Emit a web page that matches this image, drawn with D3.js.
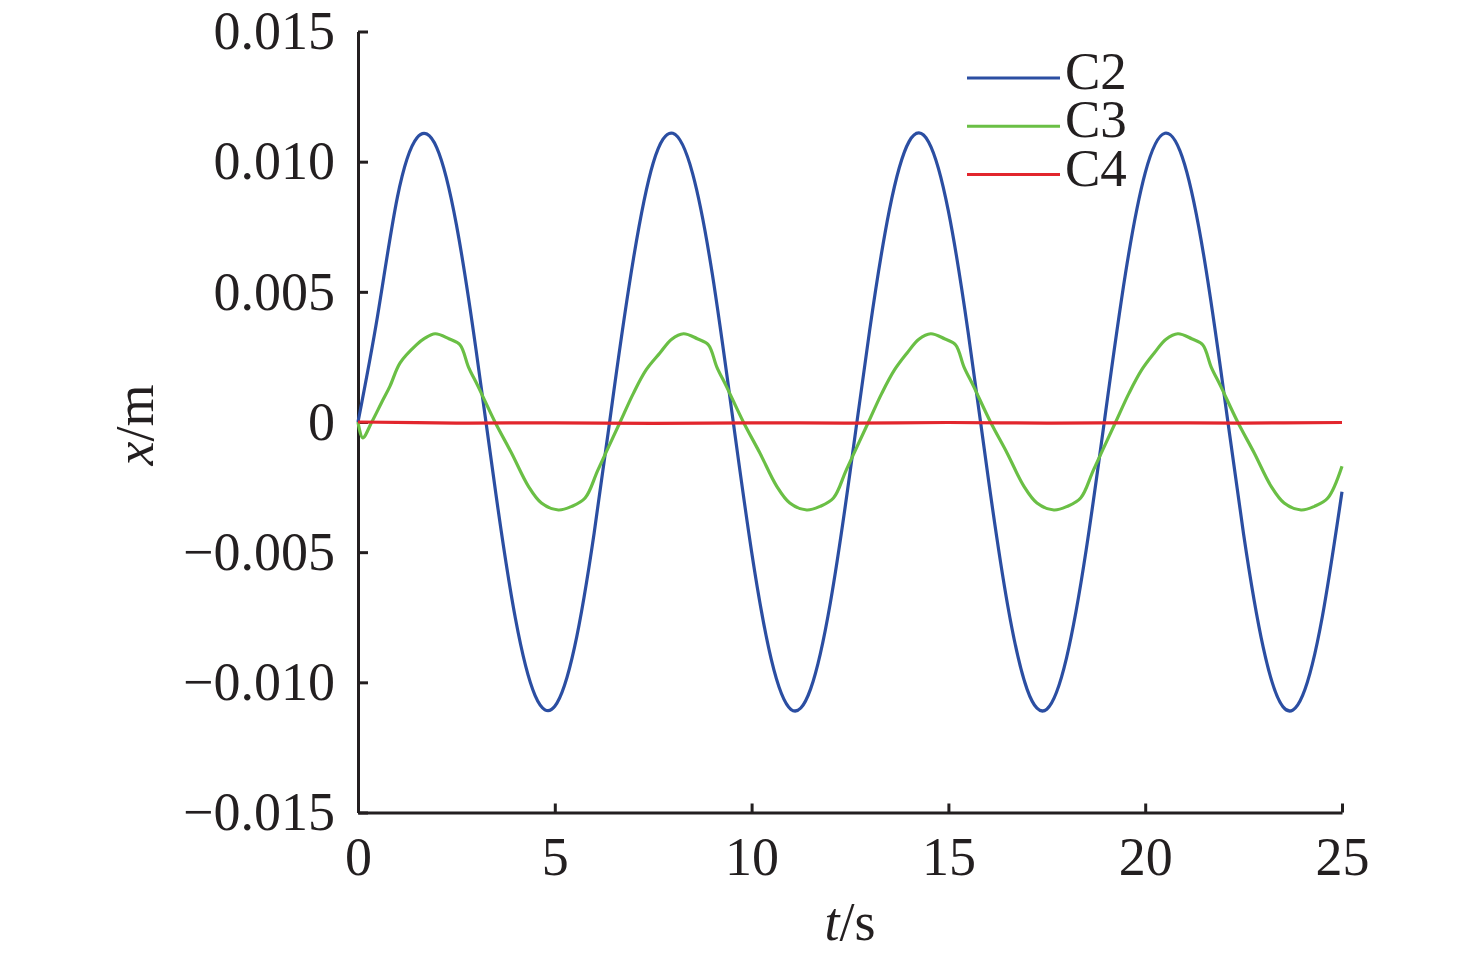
<!DOCTYPE html>
<html>
<head>
<meta charset="utf-8">
<script src="https://cdn.jsdelivr.net/npm/d3@7"></script>
<style>
  body { margin: 0; background: #fff; }
  svg text { font-family: "Liberation Serif", "Times New Roman", serif; fill: #231f20; }
</style>
</head>
<body>
<svg id="chart" width="1476" height="956"></svg>
<script>
// C2 sampled every 0.5 s
let c2T = [0, 0.5, 1, 1.5, 2, 2.5, 3, 3.5, 4, 4.5, 5, 5.5, 6, 6.5, 7, 7.5, 8, 8.5, 9, 9.5,
           10, 10.5, 11, 11.5, 12, 12.5, 13, 13.5, 14, 14.5, 15, 15.5, 16, 16.5, 17, 17.5, 18, 18.5, 19, 19.5,
           20, 20.5, 21, 21.5, 22, 22.5, 23, 23.5, 24, 24.5, 25];
let c2X = [0, 0.0041, 0.00863, 0.01092, 0.01054, 0.00758, 0.00276, -0.00273, -0.00755, -0.01051,
           -0.01092, -0.00866, -0.00426, 0.00119, 0.00629, 0.00995, 0.01109, 0.00955, 0.0057, 0.00038,
           -0.00498, -0.00912, -0.01104, -0.01025, -0.00695, -0.00194, 0.00353, 0.00814, 0.01077, 0.01075,
           0.0081, 0.00346, -0.00202, -0.00699, -0.01027, -0.01103, -0.00907, -0.00492, 0.00044, 0.00571,
           0.00957, 0.01109, 0.0099, 0.00628, 0.00112, -0.00431, -0.00867, -0.01094, -0.0105, -0.00748, -0.00268];

// C3 key points (peaks, kinks, crossings)
let c3T = [0, 0.12, 0.35, 0.6, 0.81, 1.07, 1.49, 1.7, 1.96, 2.31, 2.59, 2.81, 3.05, 3.48, 3.9, 4.33, 4.66, 5.09, 5.43, 5.77, 6.1,
           6.66, 7.0, 7.32, 7.67, 7.97, 8.27, 8.62, 8.9, 9.12, 9.36, 9.79, 10.21, 10.64, 10.97, 11.4, 11.74, 12.08, 12.41,
           12.97, 13.31, 13.63, 13.95, 14.25, 14.55, 14.9, 15.18, 15.4, 15.64, 16.07, 16.49, 16.92, 17.25, 17.68, 18.02, 18.36, 18.69,
           19.25, 19.59, 19.91, 20.23, 20.53, 20.83, 21.18, 21.46, 21.68, 21.92, 22.35, 22.77, 23.2, 23.53, 23.96, 24.3, 24.64, 25];
let c3X = [0, -0.00061, 0, 0.00075, 0.00137, 0.00227, 0.00297, 0.00322, 0.00339, 0.0032, 0.00297, 0.0021, 0.00137, 0,
           -0.00119, -0.00247, -0.00311, -0.00338, -0.00324, -0.00292, -0.00183,
           0, 0.00111, 0.002, 0.00265, 0.00318, 0.00339, 0.0032, 0.00297, 0.0021, 0.00137, 0,
           -0.00119, -0.00247, -0.00311, -0.00338, -0.00324, -0.00292, -0.00183,
           0, 0.00111, 0.002, 0.00265, 0.00318, 0.00339, 0.0032, 0.00297, 0.0021, 0.00137, 0,
           -0.00119, -0.00247, -0.00311, -0.00338, -0.00324, -0.00292, -0.00183,
           0, 0.00111, 0.002, 0.00265, 0.00318, 0.00339, 0.0032, 0.00297, 0.0021, 0.00137, 0,
           -0.00119, -0.00247, -0.00311, -0.00338, -0.00324, -0.00292, -0.0017];

// C4 stays near zero
let c4T = [0, 2.5, 5, 7.5, 10, 12.5, 15, 17.5, 20, 22.5, 25];
let c4X = [0, -0.00004, -0.00003, -0.00005, -0.00003, -0.00004, -0.00002, -0.00004, -0.00003, -0.00004, -0.00002];

let seriesNames = ["C2", "C3", "C4"];
let seriesColors = ["#2b4ea2", "#6abf45", "#e2262d"];
let xTicks = [0, 5, 10, 15, 20, 25];
let yTicks = [-0.015, -0.01, -0.005, 0, 0.005, 0.01, 0.015];

let margin = {left: 358, right: 134, top: 31.5, bottom: 143.5},
    W = 1476, H = 956;

let svg = d3.select("#chart");

let x = d3.scaleLinear().domain([0, 25]).range([margin.left, W - margin.right]);
let y = d3.scaleLinear().domain([-0.015, 0.015]).range([H - margin.bottom, margin.top]);

// axes, ticks pointing inward
let yAxis = d3.axisLeft(y).tickValues(yTicks)
  .tickSizeInner(-10).tickSizeOuter(0).tickPadding(23)
  .tickFormat(d => d === 0 ? "0" : d3.format(".3f")(d));
let xAxis = d3.axisBottom(x).tickValues(xTicks)
  .tickSizeInner(-9).tickSizeOuter(0).tickPadding(20)
  .tickFormat(d3.format("d"));

let gy = svg.append("g").attr("transform", `translate(${margin.left},0)`).call(yAxis);
let gx = svg.append("g").attr("transform", `translate(0,${H - margin.bottom})`).call(xAxis);

[gx, gy].forEach(g => {
  g.selectAll("path.domain").attr("stroke", "#231f20").attr("stroke-width", 3);
  g.selectAll(".tick line").attr("stroke", "#231f20").attr("stroke-width", 3);
  g.selectAll(".tick text").attr("font-size", 54).attr("fill", "#231f20")
    .style("font-family", '"Liberation Serif", "Times New Roman", serif');
});
gx.selectAll(".tick text").attr("dy", "0.78em");

// lines: smooth spline for the sine-like C2, catmull-rom keeps the C3 kinks
let lineSmooth = d3.line()
  .x(d => x(d[0]))
  .y(d => y(d[1]))
  .curve(d3.curveNatural);
let lineKinked = d3.line()
  .x(d => x(d[0]))
  .y(d => y(d[1]))
  .curve(d3.curveCatmullRom.alpha(0.5));

let series = [
  {name: seriesNames[0], color: seriesColors[0], pts: d3.zip(c2T, c2X), line: lineSmooth},
  {name: seriesNames[1], color: seriesColors[1], pts: d3.zip(c3T, c3X), line: lineKinked},
  {name: seriesNames[2], color: seriesColors[2], pts: d3.zip(c4T, c4X), line: lineKinked}
];

svg.append("g").selectAll("path")
  .data(series)
  .enter().append("path")
    .attr("d", d => d.line(d.pts))
    .attr("fill", "none")
    .attr("stroke", d => d.color)
    .attr("stroke-width", 3.2)
    .attr("stroke-linejoin", "round");

// legend
let legend = svg.append("g").attr("transform", "translate(967,78)");
let item = legend.selectAll("g")
  .data(series)
  .enter().append("g")
    .attr("transform", (d, i) => `translate(0,${i * 48.3})`);
item.append("line")
  .attr("x1", 0).attr("x2", 93)
  .attr("stroke", d => d.color)
  .attr("stroke-width", 3);
item.append("text")
  .attr("x", 98).attr("y", 11)
  .attr("font-size", 53)
  .text(d => d.name);

// axis titles
svg.append("text")
  .attr("transform", "translate(153,425) rotate(-90)")
  .attr("text-anchor", "middle")
  .attr("font-size", 54)
  .html('<tspan font-style="italic">x</tspan>/m');
svg.append("text")
  .attr("x", 850).attr("y", 940)
  .attr("text-anchor", "middle")
  .attr("font-size", 54)
  .html('<tspan font-style="italic">t</tspan>/s');
</script>
</body>
</html>
